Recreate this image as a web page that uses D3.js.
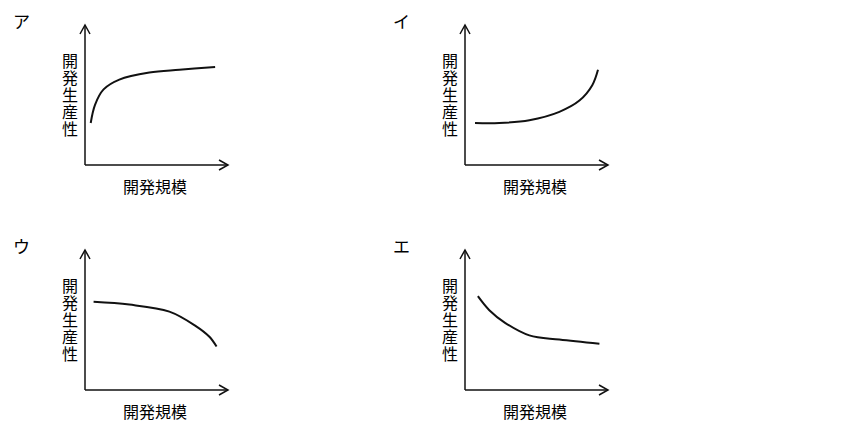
<!DOCTYPE html><html><head><meta charset="utf-8">
<script src="https://cdn.jsdelivr.net/npm/d3@7"></script>
<style>body{margin:0;background:#fff}</style></head><body><svg width="847" height="435"></svg>
<script>
const panelNames=["ア","イ","ウ","エ"];
const yLabel="開発生産性", xLabel="開発規模";
const curveA=[[.04,.30],[.07,.43],[.13,.54],[.24,.61],[.45,.66],[.66,.68],[.91,.70]];
const curveI=[[.07,.30],[.24,.30],[.45,.32],[.66,.38],[.80,.46],[.89,.57],[.93,.68]];
const curveU=[[.06,.63],[.31,.61],[.59,.56],[.77,.46],[.87,.38],[.92,.31]];
const curveE=[[.09,.67],[.17,.57],[.28,.48],[.45,.39],[.66,.36],[.94,.33]];
const curves=[curveA,curveI,curveU,curveE];
const origins=[[85,165],[465,165],[85,390],[465,390]];
const svg=d3.select("svg");
const font="'Noto Sans CJK JP', sans-serif";
curves.forEach((c,i)=>{
  const [ox,oy]=origins[i];
  const x=d3.scaleLinear().domain([0,1]).range([ox,ox+143]);
  const y=d3.scaleLinear().domain([0,1]).range([oy,oy-140]);
  const g=svg.append("g").attr("stroke","#111").attr("fill","none").attr("stroke-width",1.5);
  g.append("line").attr("x1",x(0)).attr("y1",y(0)).attr("x2",x(1)).attr("y2",y(0));
  g.append("line").attr("x1",x(0)).attr("y1",y(0)).attr("x2",x(0)).attr("y2",y(1));
  g.append("path").attr("d",`M${x(1)-9},${y(0)-5}L${x(1)},${y(0)}L${x(1)-9},${y(0)+5}`);
  g.append("path").attr("d",`M${x(0)-5},${y(1)+9}L${x(0)},${y(1)}L${x(0)+5},${y(1)+9}`);
  g.append("path").attr("stroke-width",2).attr("d",d3.line().x(d=>x(d[0])).y(d=>y(d[1])).curve(d3.curveCatmullRom)(c));
  svg.append("text").attr("x",ox-72).attr("y",oy-137).attr("font-family",font).attr("font-size",17).text(panelNames[i]);
  svg.append("text").attr("x",ox-15).attr("y",oy-112).attr("writing-mode","vertical-rl").attr("letter-spacing",1)
    .attr("font-family",font).attr("font-size",16).text(yLabel);
  svg.append("text").attr("x",ox+70).attr("y",oy+28).attr("text-anchor","middle").attr("font-family",font).attr("font-size",16).text(xLabel);
});
</script></body></html>
